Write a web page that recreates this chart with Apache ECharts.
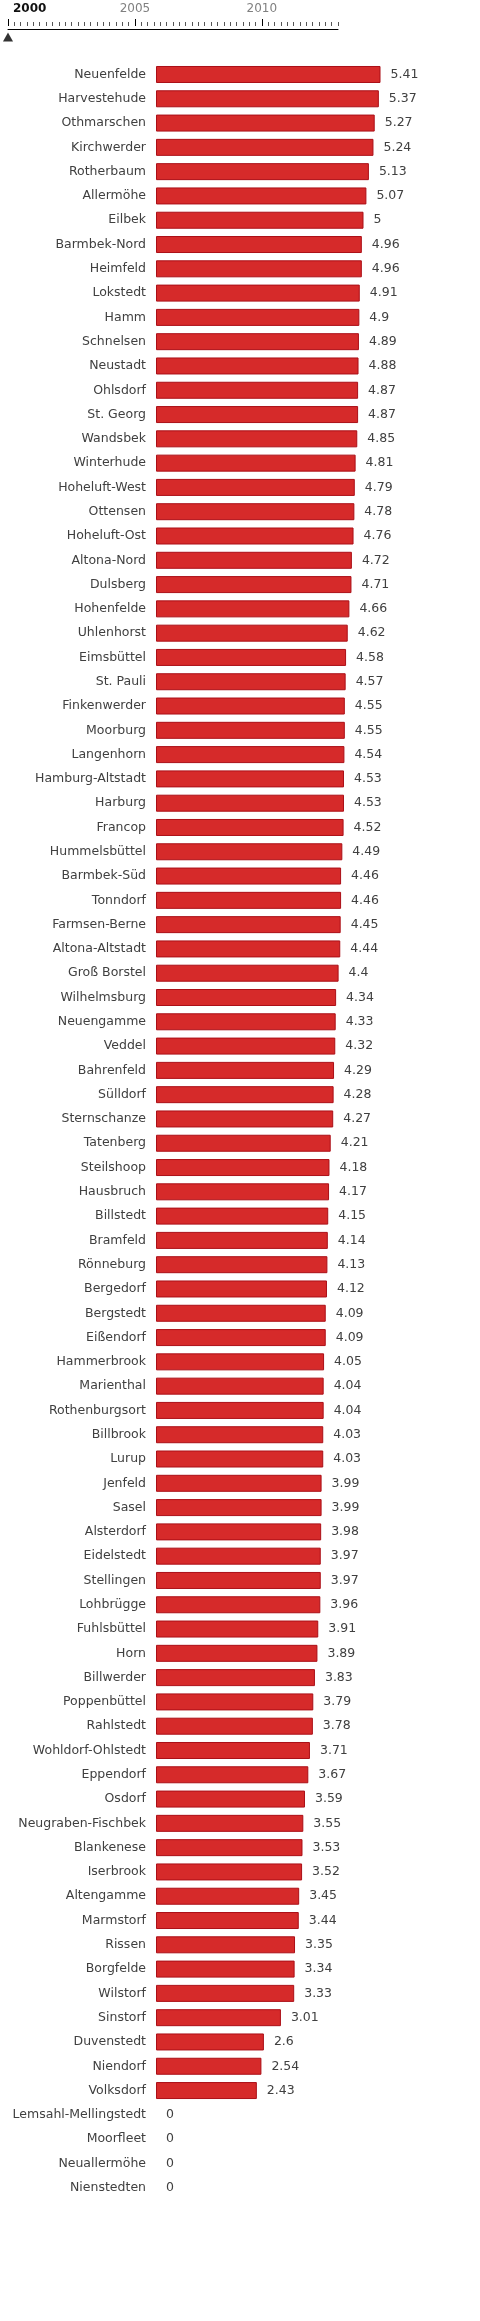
<!DOCTYPE html>
<html>
<head>
<meta charset="utf-8">
<title>Stadtteile</title>
<script src="https://cdn.jsdelivr.net/npm/echarts@6/dist/echarts.min.js"></script>
<style>
  html, body { margin: 0; padding: 0; background: #fff; }
  #chart { width: 480px; height: 2321px; }
</style>
</head>
<body>
<div id="chart"></div>
<script>
// timeline
const currentYear = 2000;
const firstYear = 2000;
const lastYear = 2013;
const majorYears = [2000, 2005, 2010];
const otherYears = majorYears.filter((y) => y !== currentYear);

// districts, top to bottom
const districts = [
  'Neuenfelde', 'Harvestehude', 'Othmarschen', 'Kirchwerder', 'Rotherbaum', 'Allermöhe',
  'Eilbek', 'Barmbek-Nord', 'Heimfeld', 'Lokstedt', 'Hamm', 'Schnelsen', 'Neustadt',
  'Ohlsdorf', 'St. Georg', 'Wandsbek', 'Winterhude', 'Hoheluft-West', 'Ottensen',
  'Hoheluft-Ost', 'Altona-Nord', 'Dulsberg', 'Hohenfelde', 'Uhlenhorst', 'Eimsbüttel',
  'St. Pauli', 'Finkenwerder', 'Moorburg', 'Langenhorn', 'Hamburg-Altstadt', 'Harburg',
  'Francop', 'Hummelsbüttel', 'Barmbek-Süd', 'Tonndorf', 'Farmsen-Berne', 'Altona-Altstadt',
  'Groß Borstel', 'Wilhelmsburg', 'Neuengamme', 'Veddel', 'Bahrenfeld', 'Sülldorf',
  'Sternschanze', 'Tatenberg', 'Steilshoop', 'Hausbruch', 'Billstedt', 'Bramfeld',
  'Rönneburg', 'Bergedorf', 'Bergstedt', 'Eißendorf', 'Hammerbrook', 'Marienthal',
  'Rothenburgsort', 'Billbrook', 'Lurup', 'Jenfeld', 'Sasel', 'Alsterdorf', 'Eidelstedt',
  'Stellingen', 'Lohbrügge', 'Fuhlsbüttel', 'Horn', 'Billwerder', 'Poppenbüttel',
  'Rahlstedt', 'Wohldorf-Ohlstedt', 'Eppendorf', 'Osdorf', 'Neugraben-Fischbek',
  'Blankenese', 'Iserbrook', 'Altengamme', 'Marmstorf', 'Rissen', 'Borgfelde', 'Wilstorf',
  'Sinstorf', 'Duvenstedt', 'Niendorf', 'Volksdorf', 'Lemsahl-Mellingstedt', 'Moorfleet',
  'Neuallermöhe', 'Nienstedten'
];

const values = [
  5.41, 5.37, 5.27, 5.24, 5.13, 5.07,
  5, 4.96, 4.96, 4.91, 4.9, 4.89, 4.88,
  4.87, 4.87, 4.85, 4.81, 4.79, 4.78,
  4.76, 4.72, 4.71, 4.66, 4.62, 4.58,
  4.57, 4.55, 4.55, 4.54, 4.53, 4.53,
  4.52, 4.49, 4.46, 4.46, 4.45, 4.44,
  4.4, 4.34, 4.33, 4.32, 4.29, 4.28,
  4.27, 4.21, 4.18, 4.17, 4.15, 4.14,
  4.13, 4.12, 4.09, 4.09, 4.05, 4.04,
  4.04, 4.03, 4.03, 3.99, 3.99, 3.98, 3.97,
  3.97, 3.96, 3.91, 3.89, 3.83, 3.79,
  3.78, 3.71, 3.67, 3.59, 3.55,
  3.53, 3.52, 3.45, 3.44, 3.35, 3.34, 3.33,
  3.01, 2.6, 2.54, 2.43, 0, 0,
  0, 0
];

const font = 'DejaVu Sans';
const textColor = '#404040';

const chart = echarts.init(document.getElementById('chart'), null, { renderer: 'canvas' });

// no border on empty bars, otherwise a 1px sliver shows up
const barData = values.map((v) => ({
  value: v,
  itemStyle: v === 0 ? { borderWidth: 0 } : undefined
}));

// shared settings for the stacked timeline axes
const timeAxis = (extra) => Object.assign({
  gridIndex: 0, type: 'value', position: 'top', offset: 3,
  min: firstYear, max: lastYear,
  axisLine: { show: false, onZero: false },
  axisTick: { show: false },
  axisLabel: { show: false },
  splitLine: { show: false }
}, extra);

const yearText = (v) => String(v);

chart.setOption({
  animation: false,
  backgroundColor: '#fff',
  grid: [
    { left: 8, right: 142, top: 29, height: 16, outerBoundsMode: 'none' },
    { left: 156, right: 75, top: 62.35, height: 2137.5, outerBoundsMode: 'none' }
  ],
  xAxis: [
    // base line
    timeAxis({
      offset: 0,
      axisLine: { show: true, onZero: false, lineStyle: { color: '#000', width: 1 } }
    }),
    // quarter ticks
    timeAxis({
      interval: 0.25,
      axisTick: { show: true, length: 4, lineStyle: { color: '#555', width: 1 } }
    }),
    // year ticks + other year labels
    timeAxis({
      axisTick: { show: true, customValues: majorYears, length: 7, lineStyle: { color: '#000', width: 1 } },
      axisLabel: {
        show: true, customValues: otherYears, margin: 11, formatter: yearText,
        fontFamily: font, fontSize: 12, color: '#808080'
      }
    }),
    // selected year label
    timeAxis({
      axisLabel: {
        show: true, customValues: [currentYear], margin: 11, align: 'left',
        padding: [0, 0, 0, 5], formatter: yearText,
        fontFamily: font, fontSize: 12, fontWeight: 'bold', color: '#111'
      }
    }),
    {
      gridIndex: 1, type: 'value', min: 0, max: 6, show: false
    }
  ],
  yAxis: [
    {
      gridIndex: 0, type: 'category', data: [''], show: false
    },
    {
      gridIndex: 1, type: 'category', inverse: true, data: districts,
      axisLine: { show: false }, axisTick: { show: false }, splitLine: { show: false },
      axisLabel: {
        interval: 0, margin: 10, color: textColor,
        fontFamily: font, fontSize: 12.5
      }
    }
  ],
  series: [
    {
      type: 'scatter',
      xAxisIndex: 0, yAxisIndex: 0,
      symbol: 'triangle', symbolSize: [10, 9],
      clip: false,
      itemStyle: { color: '#000' },
      data: [[currentYear, '']]
    },
    {
      type: 'bar',
      xAxisIndex: 4, yAxisIndex: 1,
      barWidth: 17,
      data: barData,
      itemStyle: { color: '#d62a2a', borderColor: '#ab0f17', borderWidth: 1 },
      label: {
        show: true, position: 'right', distance: 10,
        color: textColor, fontFamily: font, fontSize: 12.5
      }
    }
  ]
});
</script>
</body>
</html>
